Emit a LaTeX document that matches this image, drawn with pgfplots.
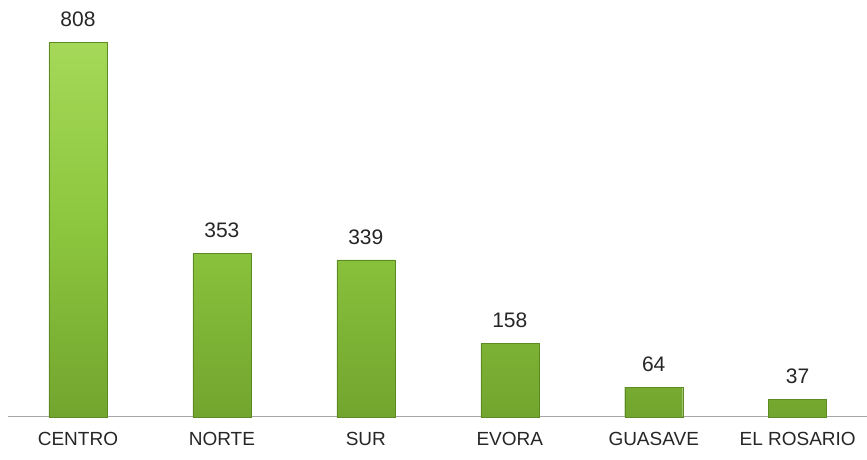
\documentclass[border=0pt]{standalone}
\usepackage{pgfplots}
\pgfplotsset{compat=1.18}
\usepackage{fontspec}
\setmainfont{Liberation Sans}
\definecolor{barmid}{HTML}{8CC63E}
\definecolor{bartop}{HTML}{A5D858}
\definecolor{barbot}{HTML}{72A52E}
\definecolor{baredge}{HTML}{5E8A25}
\begin{document}
\begin{tikzpicture}
\begin{axis}[
  scale only axis,
  width=859pt, height=417pt,
  xmin=-0.486, xmax=5.479,
  ymin=0, ymax=900,
  axis x line=bottom,
  axis y line=none,
  axis line style={color=gray!70, line width=0.8pt, -},
  xtick=data,
  xticklabels={CENTRO,NORTE,SUR,EVORA,GUASAVE,EL ROSARIO},
  x tick label style={font=\fontsize{19}{19}\selectfont, color=black!85, yshift=-12pt},
  major tick length=0pt,
  ytick=\empty,
  ybar, bar width=58pt,
  nodes near coords,
  nodes near coords style={font=\fontsize{21}{21}\selectfont, color=black!85, yshift=12pt},
  /pgf/number format/assume math mode=true,
  clip=false,
]
\addplot[draw=baredge, line width=0.4pt, top color=bartop, bottom color=barbot, middle color=barmid]
  coordinates {(0,808) (1,353) (2,339) (3,158) (4,64) (5,37)};
\end{axis}
\path (current axis.south west) ++(-8pt,-43pt) rectangle (current axis.north east);
\end{tikzpicture}
\end{document}
